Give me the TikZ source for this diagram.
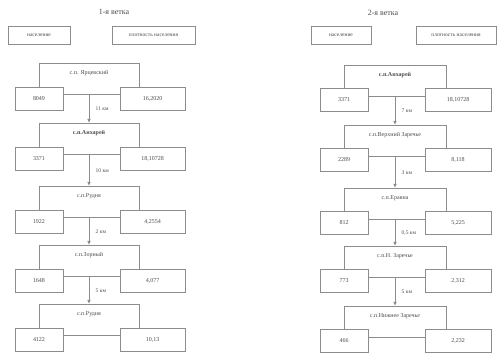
\documentclass[tikz,border=0pt]{standalone}
\usepackage{fontspec}
\setmainfont{Liberation Serif}
\usetikzlibrary{arrows.meta}
\definecolor{ln}{gray}{0.55}
\definecolor{tx}{gray}{0.3}
\begin{document}
\begin{tikzpicture}[x=1pt,y=-1pt,
  setbox/.style={draw=ln,line width=0.8pt,minimum width=100pt,minimum height=31pt,inner sep=0pt,anchor=north},
  valbox/.style={draw=ln,line width=0.8pt,fill=white,minimum height=23pt,inner sep=0pt,anchor=north,font=\fontsize{6}{7}\selectfont,text=tx},
  legbox/.style={draw=ln,line width=0.8pt,minimum height=18pt,inner sep=0pt,font=\fontsize{5.5}{6.5}\selectfont,text=tx},
  sname/.style={font=\fontsize{6}{7}\selectfont,text=tx,anchor=north},
  ttl/.style={font=\fontsize{8}{9}\selectfont,text=tx},
  conn/.style={draw=ln,line width=0.8pt,-{Latex[length=4pt,width=3.5pt]}},
  dist/.style={font=\fontsize{5.5}{6.5}\selectfont,text=tx,anchor=west,midway,xshift=3pt}]
\useasboundingbox (0,0) rectangle (499,358);
% titles
\node[ttl] (t1) at (114,12) {1-я ветка};
\node[ttl] (t2) at (383,13) {2-я ветка};
% legend
\node[legbox,minimum width=62pt] (l1) at (39,35.5) {население};
\node[legbox,minimum width=83pt] (l2) at (153.5,35.5) {плотность населения};
\node[legbox,minimum width=60pt] (l3) at (341,35.5) {население};
\node[legbox,minimum width=80pt] (l4) at (456,35.5) {плотность населения};
% ---------- branch 1 ----------
\foreach \i/\y/\nm/\a/\b in {1/63/{с.п. Ярцевский}/8049/{16,2020},
  2/123/{\textbf{с.п.Анхарей}}/3371/{18,10728},
  3/186/{с.п.Рудня}/1922/{4,2554},
  4/245/{с.п.Зорный}/1648/{4,077},
  5/304/{с.п.Рудня}/4122/{10,13}}{
  \node[setbox] (a\i) at (89,\y) {};
  \node[sname] (an\i) at (89,\y+4) {\nm};
  \node[valbox,minimum width=48pt] (av\i) at (39,\y+24) {\a};
  \node[valbox,minimum width=65pt] (aw\i) at (152.5,\y+24) {\b};
}
\draw[conn] (a1.south) -- (a2.north) node[dist] {11 км};
\draw[conn] (a2.south) -- (a3.north) node[dist] {10 км};
\draw[conn] (a3.south) -- (a4.north) node[dist] {2 км};
\draw[conn] (a4.south) -- (a5.north) node[dist] {5 км};
% ---------- branch 2 ----------
\foreach \i/\y/\nm/\a/\b in {1/65/{\textbf{с.п.Анхарей}}/3371/{18,10728},
  2/125/{с.п.Верхний Заречье}/2289/{8,118},
  3/188/{с.п.Еравна}/812/{5,225},
  4/246/{с.п.Н. Заречье}/773/{2,312},
  5/306/{с.п.Нижнее Заречье}/466/{2,232}}{
  \node[setbox,minimum width=102pt] (b\i) at (395,\y) {};
  \node[sname] (bn\i) at (395,\y+4) {\nm};
  \node[valbox,minimum width=48pt] (bv\i) at (344,\y+23) {\a};
  \node[valbox,minimum width=66pt] (bw\i) at (458,\y+23) {\b};
}
\draw[conn] (b1.south) -- (b2.north) node[dist] {7 км};
\draw[conn] (b2.south) -- (b3.north) node[dist] {3 км};
\draw[conn] (b3.south) -- (b4.north) node[dist] {0,5 км};
\draw[conn] (b4.south) -- (b5.north) node[dist] {5 км};
\end{tikzpicture}
\end{document}
